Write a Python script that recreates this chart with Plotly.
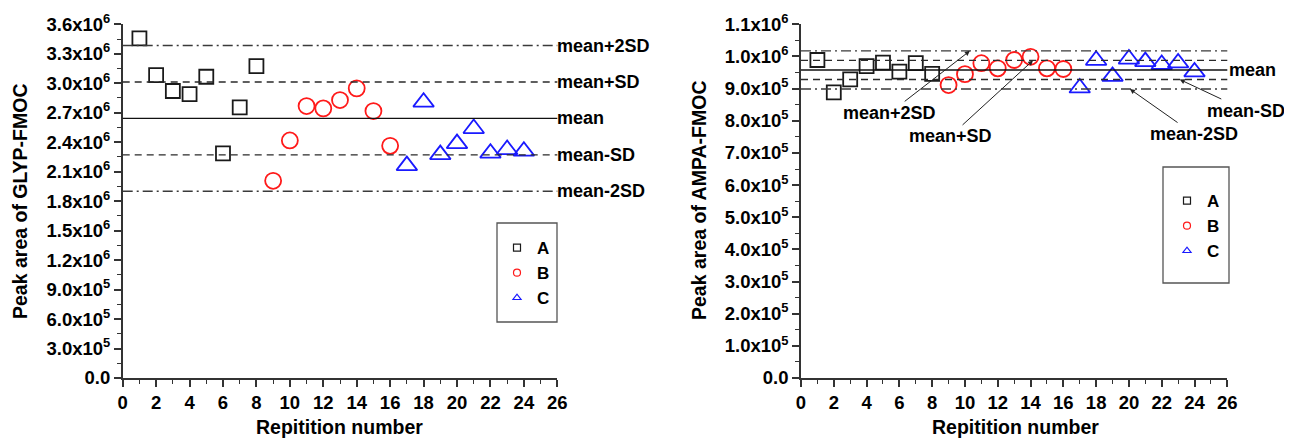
import plotly.graph_objects as go

# ---------------- data ----------------
rep_A = [1, 2, 3, 4, 5, 6, 7, 8]
rep_B = [9, 10, 11, 12, 13, 14, 15, 16]
rep_C = [17, 18, 19, 20, 21, 22, 23, 24]

glyp_A = [3.457e6, 3.083e6, 2.921e6, 2.890e6, 3.066e6, 2.286e6, 2.754e6, 3.175e6]
glyp_B = [2.007e6, 2.418e6, 2.768e6, 2.744e6, 2.829e6, 2.948e6, 2.717e6, 2.363e6]
glyp_C = [2.162e6, 2.808e6, 2.274e6, 2.386e6, 2.539e6, 2.289e6, 2.325e6, 2.309e6]
glyp_mean = 2.642e6
glyp_sd = 0.371e6

ampa_A = [0.989e6, 0.888e6, 0.929e6, 0.970e6, 0.981e6, 0.953e6, 0.979e6, 0.946e6]
ampa_B = [0.911e6, 0.945e6, 0.979e6, 0.963e6, 0.989e6, 0.999e6, 0.963e6, 0.961e6]
ampa_C = [0.902e6, 0.988e6, 0.938e6, 0.992e6, 0.984e6, 0.975e6, 0.980e6, 0.952e6]
ampa_mean = 0.958e6
ampa_sd = 0.0297e6

x_tickvals = list(range(0, 27, 2))

glyp_tickvals = [0, 3e5, 6e5, 9e5, 1.2e6, 1.5e6, 1.8e6, 2.1e6, 2.4e6, 2.7e6, 3.0e6, 3.3e6, 3.6e6]
glyp_ticktext = ["0.0", "3.0x10<sup>5</sup>", "6.0x10<sup>5</sup>", "9.0x10<sup>5</sup>",
                 "1.2x10<sup>6</sup>", "1.5x10<sup>6</sup>", "1.8x10<sup>6</sup>", "2.1x10<sup>6</sup>",
                 "2.4x10<sup>6</sup>", "2.7x10<sup>6</sup>", "3.0x10<sup>6</sup>", "3.3x10<sup>6</sup>",
                 "3.6x10<sup>6</sup>"]

ampa_tickvals = [0, 1e5, 2e5, 3e5, 4e5, 5e5, 6e5, 7e5, 8e5, 9e5, 1.0e6, 1.1e6]
ampa_ticktext = ["0.0", "1.0x10<sup>5</sup>", "2.0x10<sup>5</sup>", "3.0x10<sup>5</sup>",
                 "4.0x10<sup>5</sup>", "5.0x10<sup>5</sup>", "6.0x10<sup>5</sup>", "7.0x10<sup>5</sup>",
                 "8.0x10<sup>5</sup>", "9.0x10<sup>5</sup>", "1.0x10<sup>6</sup>", "1.1x10<sup>6</sup>"]

series_names = ["A", "B", "C"]
series_colors = ["#1a1a1a", "#ff1a1a", "#1a1aff"]
series_symbols = ["square-open", "circle-open", "triangle-up-open"]
series_sizes = [14, 16, 18]

# ---------------- layout helpers ----------------
# the page body has an 8px margin, so the figure is drawn 8px in from the window edge
OFF = 8
W, H = 1292 - OFF, 439 - OFF
FONT = "Liberation Sans, Arial, sans-serif"


def fx(px):
    return (px - OFF) / W


def fy(py):
    return 1 - (py - OFF) / H


fig = go.Figure()

groups = [
    ("x", "y", "legend", [(rep_A, glyp_A), (rep_B, glyp_B), (rep_C, glyp_C)]),
    ("x2", "y2", "legend2", [(rep_A, ampa_A), (rep_B, ampa_B), (rep_C, ampa_C)]),
]

for xa, ya, lg, data in groups:
    for i, (xs, ys) in enumerate(data):
        fig.add_trace(go.Scatter(
            x=xs, y=ys, mode="markers", xaxis=xa, yaxis=ya, showlegend=False,
            marker=dict(symbol=series_symbols[i], size=series_sizes[i], color=series_colors[i],
                        line=dict(width=1.8, color=series_colors[i])),
        ))
    for i in range(3):
        fig.add_trace(go.Scatter(
            x=[None], y=[None], mode="markers", xaxis=xa, yaxis=ya, name=series_names[i],
            legend=lg, showlegend=True,
            marker=dict(symbol=series_symbols[i], size=7, color=series_colors[i],
                        line=dict(width=1.2, color=series_colors[i])),
        ))

tickfont = dict(family=FONT, size=18.5, color="black", weight="bold")
axis_common = dict(showline=True, linecolor="#333333", linewidth=1.5, ticks="outside",
                   ticklen=7, tickwidth=1.5, tickcolor="#333333", showgrid=False,
                   zeroline=False, tickfont=tickfont, mirror=False, automargin=False)

ydom = [fy(378), fy(24.3)]

fig.update_layout(
    width=W, height=H,
    margin=dict(l=0, r=0, t=0, b=0, autoexpand=False),
    paper_bgcolor="white", plot_bgcolor="white",
    font=dict(family=FONT, color="black"),
    xaxis=dict(domain=[fx(122.7), fx(557.3)], range=[0, 26], anchor="y",
               tickmode="array", tickvals=x_tickvals,
               minor=dict(dtick=1, tick0=0, ticks="outside", ticklen=4, tickwidth=1.2, tickcolor="#333333"),
               **axis_common),
    yaxis=dict(domain=ydom, range=[0, 3.6e6], anchor="x",
               tickmode="array", tickvals=glyp_tickvals, ticktext=glyp_ticktext,
               minor=dict(dtick=1.5e5, tick0=0, ticks="outside", ticklen=4, tickwidth=1.2, tickcolor="#333333"),
               **axis_common),
    xaxis2=dict(domain=[fx(801), fx(1227.3)], range=[0, 26], anchor="y2",
                tickmode="array", tickvals=x_tickvals,
                minor=dict(dtick=1, tick0=0, ticks="outside", ticklen=4, tickwidth=1.2, tickcolor="#333333"),
                **axis_common),
    yaxis2=dict(domain=ydom, range=[0, 1.1e6], anchor="x2",
                tickmode="array", tickvals=ampa_tickvals, ticktext=ampa_ticktext,
                minor=dict(dtick=5e4, tick0=0, ticks="outside", ticklen=4, tickwidth=1.2, tickcolor="#333333"),
                **axis_common),
    legend=dict(x=fx(497), y=fy(273), xanchor="left", yanchor="middle",
                bgcolor="rgba(0,0,0,0)", borderwidth=0,
                font=dict(family=FONT, size=17, color="black", weight="bold")),
    legend2=dict(x=fx(1167), y=fy(226), xanchor="left", yanchor="middle",
                 bgcolor="rgba(0,0,0,0)", borderwidth=0,
                 font=dict(family=FONT, size=17, color="black", weight="bold")),
)

shapes = []
# mean / SD reference lines
for xa, ya, m, s in [("x", "y", glyp_mean, glyp_sd), ("x2", "y2", ampa_mean, ampa_sd)]:
    for v, dash, col in [(m + 2 * s, "10px,4px,2px,4px", "#3a3a3a"), (m + s, "7px,5px", "#2a2a2a"),
                         (m, "solid", "#111111"), (m - s, "7px,5px", "#2a2a2a"),
                         (m - 2 * s, "10px,4px,2px,4px", "#3a3a3a")]:
        shapes.append(dict(type="line", xref=xa + " domain", x0=0, x1=1, yref=ya, y0=v, y1=v,
                           line=dict(color=col, width=1.4, dash=dash)))
# legend frames
shapes.append(dict(type="rect", xref="paper", yref="paper", x0=fx(497), x1=fx(557),
                   y0=fy(322), y1=fy(223), line=dict(color="#555555", width=1.3)))
shapes.append(dict(type="rect", xref="paper", yref="paper", x0=fx(1163), x1=fx(1229),
                   y0=fy(283), y1=fy(167), line=dict(color="#555555", width=1.3)))

lab_font = dict(family=FONT, size=18, color="black", weight="bold")
annotations = []
for v, t in [(glyp_mean + 2 * glyp_sd, "mean+2SD"), (glyp_mean + glyp_sd, "mean+SD"),
             (glyp_mean, "mean"), (glyp_mean - glyp_sd, "mean-SD"), (glyp_mean - 2 * glyp_sd, "mean-2SD")]:
    annotations.append(dict(xref="x", yref="y", x=26, y=v, text=t, showarrow=False,
                            xanchor="left", yanchor="middle", font=lab_font, xshift=-2))

annotations.append(dict(xref="x2", yref="y2", x=26, y=ampa_mean, text="mean", showarrow=False,
                        xanchor="left", yanchor="middle", font=lab_font))
for xh, v, t, ax, ay in [(10.3, ampa_mean + 2 * ampa_sd, "mean+2SD", -80, 62),
                         (14.15, ampa_mean + ampa_sd, "mean+SD", -83, 76),
                         (23.1, ampa_mean - ampa_sd, "mean-SD", 66, 31),
                         (20.06, ampa_mean - 2 * ampa_sd, "mean-2SD", 64, 45)]:
    annotations.append(dict(xref="x2", yref="y2", x=xh, y=v, text=t, showarrow=True,
                            ax=ax, ay=ay, arrowhead=2, arrowsize=1, arrowwidth=1,
                            arrowcolor="#222222", font=lab_font))

title_font = dict(family=FONT, size=19.5, color="black", weight="bold")
annotations += [
    dict(xref="paper", yref="paper", x=fx(20), y=fy(201), text="Peak area of GLYP-FMOC",
         textangle=-90, showarrow=False, font=title_font, xanchor="center", yanchor="middle"),
    dict(xref="paper", yref="paper", x=fx(699), y=fy(201), text="Peak area of AMPA-FMOC",
         textangle=-90, showarrow=False, font=title_font, xanchor="center", yanchor="middle"),
    dict(xref="paper", yref="paper", x=fx(340), y=fy(427), text="Repitition number",
         showarrow=False, font=title_font, xanchor="center", yanchor="middle"),
    dict(xref="paper", yref="paper", x=fx(1015), y=fy(427), text="Repitition number",
         showarrow=False, font=title_font, xanchor="center", yanchor="middle"),
]

fig.update_layout(shapes=shapes, annotations=annotations)

fig.write_html("out.html")
